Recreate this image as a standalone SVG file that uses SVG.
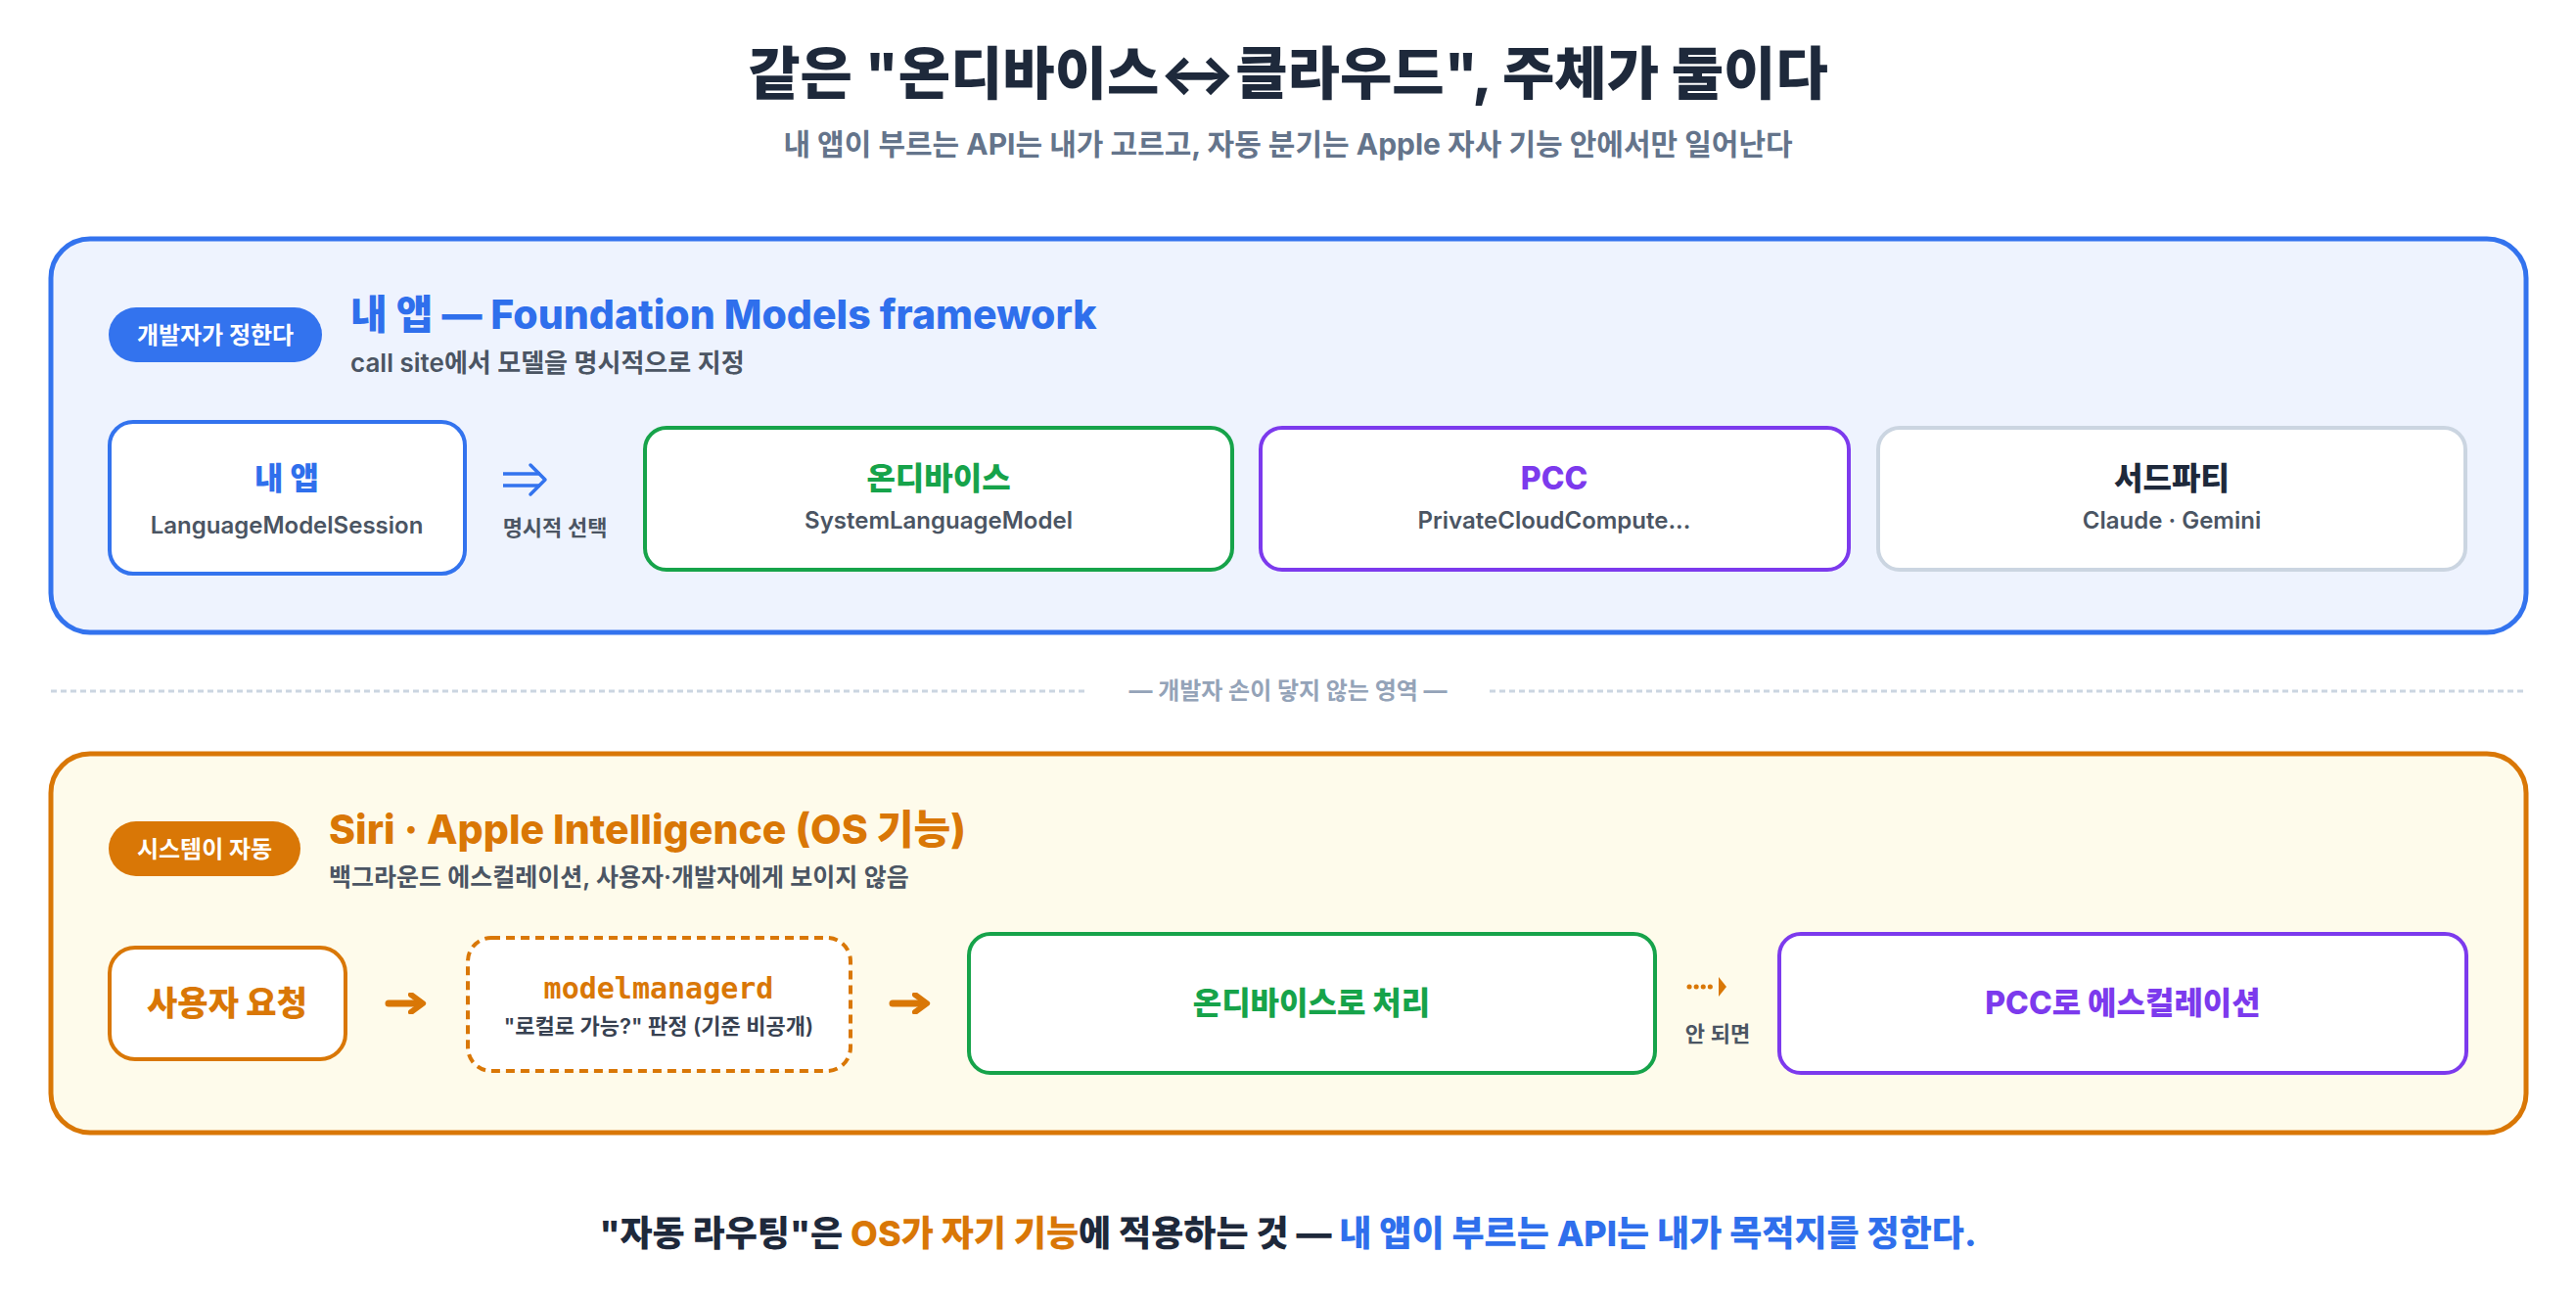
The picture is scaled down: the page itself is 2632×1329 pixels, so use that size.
<svg xmlns="http://www.w3.org/2000/svg" width="2632" height="1329" viewBox="0 0 2632 1329">
<defs>
<style>
text{font-family:Inter,"Noto Sans CJK KR",sans-serif}
.t{font-weight:800;font-size:58px;fill:#1e293b;text-anchor:middle}
.sub{font-weight:700;font-size:30px;fill:#64748b;text-anchor:middle}
.pill{font-weight:700;font-size:24px;fill:#fff;text-anchor:middle}
.h{font-weight:800;font-size:41px}
.hs{font-weight:600;font-size:26px;fill:#4b5563}
.n{fill:#fff;stroke-width:4}
.nt{font-weight:800;font-size:32px;text-anchor:middle}
.ns{font-weight:600;font-size:24px;fill:#4b5563;text-anchor:middle}
.lab{font-weight:600;font-size:22px;fill:#4b5563;text-anchor:middle}
.blue{fill:#2f6fec}.green{fill:#16a34a}.purple{fill:#7c3aed}.orange{fill:#d97706}.dark{fill:#1e293b}
</style>
<marker id="ah" viewBox="0 0 10 10" refX="6" refY="5" markerWidth="3.2" markerHeight="3.2" orient="auto"><path d="M1.5,1 L7,5 L1.5,9" fill="none" stroke="#d97706" stroke-width="2.6" stroke-linecap="round" stroke-linejoin="round"/></marker>
<marker id="tri" viewBox="0 0 10 10" refX="2" refY="5" markerWidth="4" markerHeight="5" orient="auto"><path d="M0,0 L10,5 L0,10 Z" fill="#d97706"/></marker>
</defs>
<rect width="2632" height="1329" fill="#fff"/>
<text class="t" x="1316" y="96">같은 "온디바이스↔클라우드", 주체가 둘이다</text>
<text class="sub" x="1316" y="158">내 앱이 부르는 API는 내가 고르고, 자동 분기는 Apple 자사 기능 안에서만 일어난다</text>

<g id="panel-app">
<rect x="52" y="244" width="2529" height="402" rx="40" fill="#eef3fe" stroke="#3373ee" stroke-width="5"/>
<rect x="111" y="314" width="218" height="56" rx="28" fill="#3373ee"/>
<text class="pill" x="220" y="351">개발자가 정한다</text>
<text class="h blue" x="358" y="336">내 앱 — Foundation Models framework</text>
<text class="hs" x="358" y="380">call site에서 모델을 명시적으로 지정</text>
</g>
<g id="n-myapp"><rect class="n" x="112" y="431" width="363" height="155" rx="24" stroke="#3373ee" stroke-width="5"/>
<text class="nt blue" x="293" y="500">내 앱</text><text class="ns" x="293" y="545">LanguageModelSession</text></g>
<g id="n-ondevice"><rect class="n" x="659" y="437" width="600" height="145" rx="22" stroke="#16a34a"/>
<text class="nt green" x="959" y="500">온디바이스</text><text class="ns" x="959" y="540">SystemLanguageModel</text></g>
<g id="n-pcc"><rect class="n" x="1288" y="437" width="601" height="145" rx="22" stroke="#7c3aed"/>
<text class="nt purple" x="1588" y="500">PCC</text><text class="ns" x="1588" y="540">PrivateCloudCompute...</text></g>
<g id="n-third"><rect class="n" x="1919" y="437" width="600" height="145" rx="22" stroke="#cbd5e1"/>
<text class="nt dark" x="2219" y="500">서드파티</text><text class="ns" x="2219" y="540">Claude · Gemini</text></g>

<g id="divider">
<line x1="52" y1="706" x2="1112" y2="706" stroke="#cbd5e1" stroke-width="3" stroke-dasharray="6 4"/>
<line x1="1522" y1="706" x2="2581" y2="706" stroke="#cbd5e1" stroke-width="3" stroke-dasharray="6 4"/>
<text x="1316" y="714" style="font-weight:700;font-size:24px;fill:#94a3b8;text-anchor:middle">— 개발자 손이 닿지 않는 영역 —</text>
</g>

<g id="panel-os">
<rect x="52" y="770" width="2529" height="387" rx="40" fill="#fefbeb" stroke="#d97706" stroke-width="5"/>
<rect x="111" y="839" width="196" height="56" rx="28" fill="#d97706"/>
<text class="pill" x="209" y="876">시스템이 자동</text>
<text class="h orange" x="336" y="862">Siri · Apple Intelligence (OS 기능)</text>
<text class="hs" x="336" y="905" style="font-size:25px">백그라운드 에스컬레이션, 사용자·개발자에게 보이지 않음</text>
</g>
<g id="n-request"><rect class="n" x="112" y="968" width="241" height="114" rx="26" stroke="#d97706"/>
<text class="nt orange" x="232" y="1037" style="font-size:34px">사용자 요청</text></g>
<g id="n-mm"><rect class="n" x="478" y="958" width="391" height="136" rx="24" stroke="#d97706" stroke-dasharray="9 6"/>
<text x="673" y="1020" style="font-family:'DejaVu Sans Mono','Liberation Mono',monospace;font-weight:700;font-size:30px;fill:#d97706;text-anchor:middle">modelmanagerd</text>
<text class="lab" x="673" y="1056" style="fill:#374151">"로컬로 가능?" 판정 (기준 비공개)</text></g>
<g id="n-local"><rect class="n" x="990" y="954" width="701" height="142" rx="22" stroke="#16a34a"/>
<text class="nt green" x="1340" y="1036">온디바이스로 처리</text></g>
<g id="n-pccesc"><rect class="n" x="1818" y="954" width="702" height="142" rx="22" stroke="#7c3aed"/>
<text class="nt purple" x="2169" y="1036">PCC로 에스컬레이션</text></g>

<g id="connectors">
<path d="M514,484 H552 M514,496 H552" stroke="#3373ee" stroke-width="3.5" fill="none"/>
<path d="M542,475 L557,490 L542,505" stroke="#3373ee" stroke-width="3.5" fill="none" stroke-linecap="round" stroke-linejoin="round"/>
<text class="lab" x="567" y="547">명시적 선택</text>
<path d="M397,1025 H430" stroke="#d97706" stroke-width="7" stroke-linecap="round" marker-end="url(#ah)"/>
<path d="M912,1025 H945" stroke="#d97706" stroke-width="7" stroke-linecap="round" marker-end="url(#ah)"/>
<path d="M1726,1008 H1750" stroke="#d97706" stroke-width="5" stroke-dasharray="0.1 7" stroke-linecap="round"/>
<path d="M1756,998 L1764,1008 L1756,1018 Z" fill="#d97706"/>
<text class="lab" x="1755" y="1064">안 되면</text>
</g>

<text x="1316" y="1273" style="font-weight:800;font-size:36px;text-anchor:middle"><tspan class="dark">"자동 라우팅"은 </tspan><tspan class="orange">OS가 자기 기능</tspan><tspan class="dark">에 적용하는 것 — </tspan><tspan class="blue">내 앱이 부르는 API는 내가 목적지를 정한다.</tspan></text>
</svg>
